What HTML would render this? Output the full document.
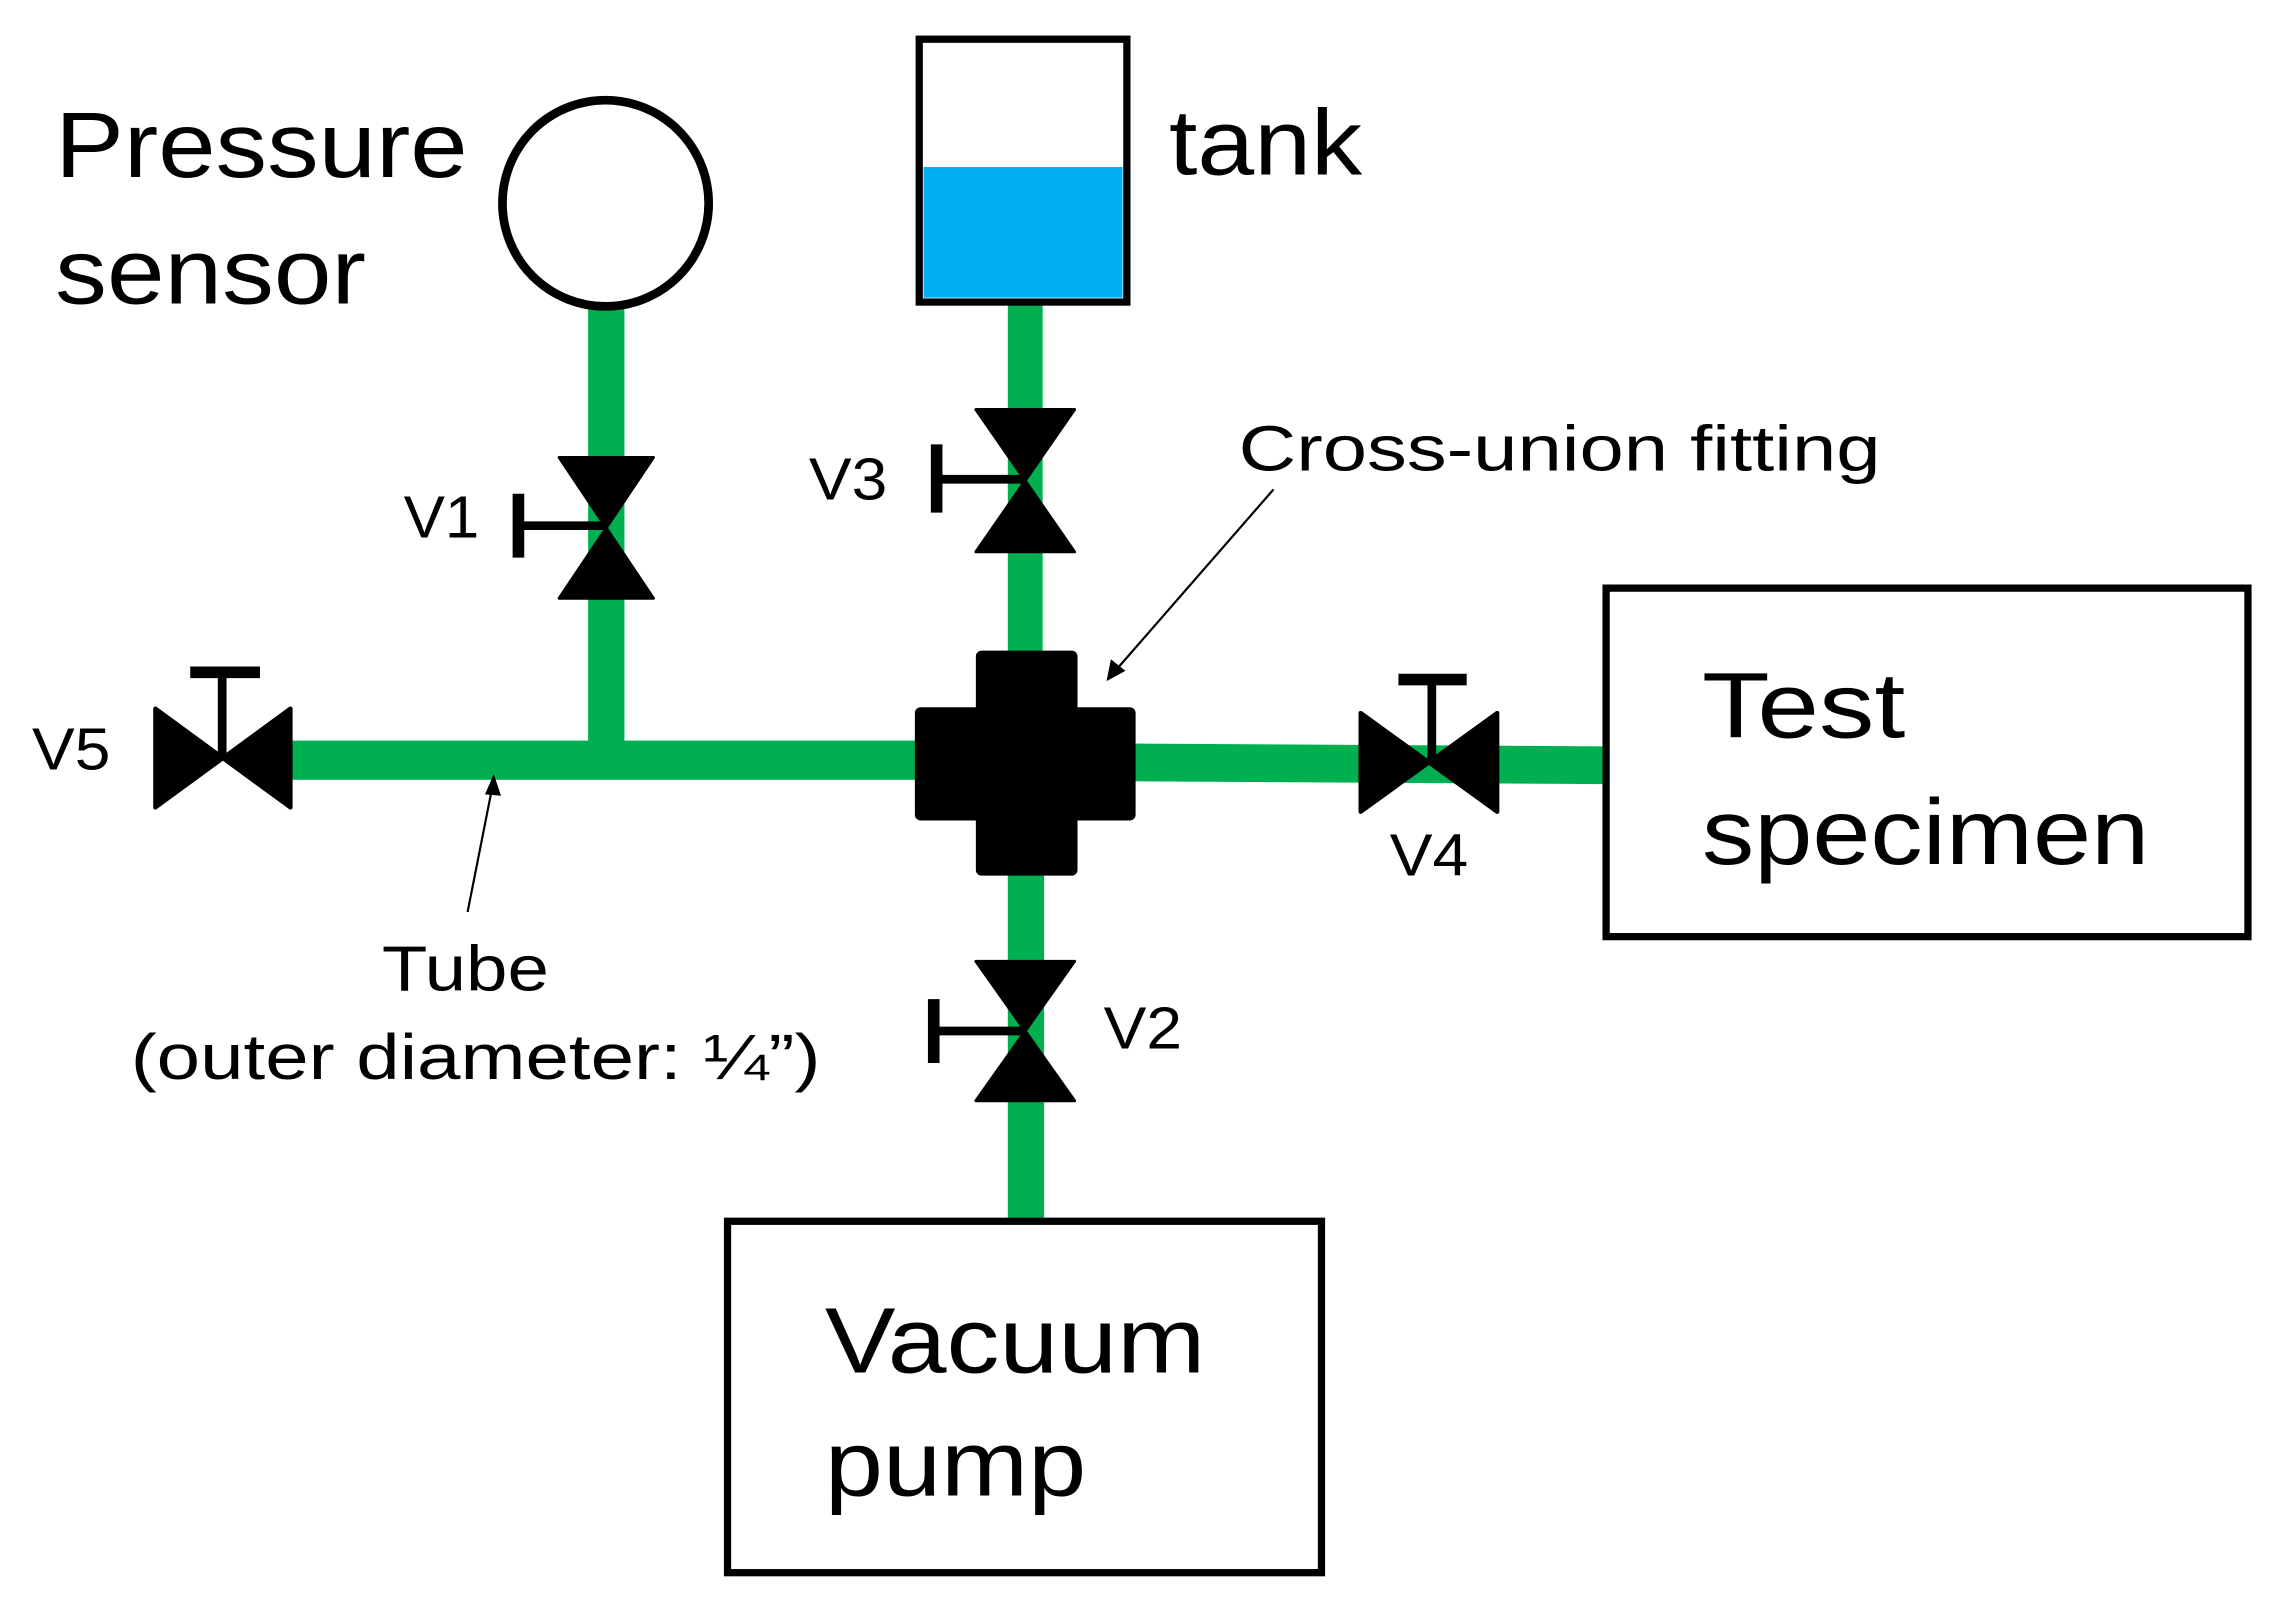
<!DOCTYPE html>
<html><head><meta charset="utf-8"><style>
html,body{margin:0;padding:0;background:#fff}
svg{display:block}
text{font-family:"Liberation Sans","DejaVu Sans",sans-serif;fill:#000}
</style></head><body>
<svg width="2277" height="1609" viewBox="0 0 1568 1108" xmlns="http://www.w3.org/2000/svg">
<rect width="1568" height="1108" fill="#fff"/>
<g fill="#00b050">
<rect x="405" y="212" width="25" height="313"/>
<rect x="694" y="210" width="24" height="245"/>
<rect x="694" y="595" width="25" height="247"/>
<rect x="195" y="510" width="440" height="27"/>
<path d="M780 512 L1105 514 L1105 540 L780 538 Z"/>
</g>
<circle cx="417" cy="140" r="71" fill="#fff" stroke="#000" stroke-width="6"/>
<rect x="633" y="27" width="143" height="181" fill="#fff" stroke="#000" stroke-width="5"/>
<rect x="636" y="115" width="137" height="90" fill="#00b0f0"/>
<g fill="#000">
<rect x="672" y="448" width="70" height="155" rx="4"/>
<rect x="630" y="487" width="152" height="78" rx="4"/>
</g>
<g fill="#000" stroke="#000">
<path d="M385 315 L450 315 L385 412 L450 412 Z" stroke-width="2" stroke-linejoin="round"/>
<line x1="358" y1="362" x2="417" y2="362" stroke-width="6"/>
<line x1="357" y1="340" x2="357" y2="384" stroke-width="8"/>
<path d="M672 282 L740 282 L672 380 L740 380 Z" stroke-width="2" stroke-linejoin="round"/>
<line x1="645" y1="330" x2="706" y2="330" stroke-width="6"/>
<line x1="645" y1="306" x2="645" y2="353" stroke-width="8"/>
<path d="M672 662 L740 662 L672 758 L740 758 Z" stroke-width="2" stroke-linejoin="round"/>
<line x1="643" y1="710" x2="706" y2="710" stroke-width="6"/>
<line x1="643" y1="688" x2="643" y2="732" stroke-width="8"/>
<path d="M107 488 L107 556 L200 488 L200 556 Z" stroke-width="3" stroke-linejoin="round"/>
<line x1="153" y1="522" x2="153" y2="463" stroke-width="6"/>
<line x1="131" y1="463" x2="179" y2="463" stroke-width="8"/>
<path d="M937 491 L937 559 L1031 491 L1031 559 Z" stroke-width="3" stroke-linejoin="round"/>
<line x1="986" y1="525" x2="986" y2="468" stroke-width="6"/>
<line x1="963" y1="468" x2="1010" y2="468" stroke-width="8"/>
</g>
<rect x="1106" y="405" width="442" height="240" fill="none" stroke="#000" stroke-width="5"/>
<rect x="501" y="841" width="409" height="242" fill="none" stroke="#000" stroke-width="5"/>
<g stroke="#000" stroke-width="1.5">
<line x1="877" y1="337" x2="768" y2="462"/>
<line x1="322" y1="628" x2="339" y2="542"/>
</g>
<path d="M762 469 L765 454 L775 462 Z" fill="#000"/>
<path d="M340 533 L334 547 L345 548 Z" fill="#000"/>
<g font-size="64" lengthAdjust="spacingAndGlyphs">
<text x="38" y="122" textLength="284" lengthAdjust="spacingAndGlyphs">Pressure</text>
<text x="38" y="209" textLength="214" lengthAdjust="spacingAndGlyphs">sensor</text>
<text x="805" y="120" textLength="133" lengthAdjust="spacingAndGlyphs">tank</text>
<text x="1172" y="508" textLength="140" lengthAdjust="spacingAndGlyphs">Test</text>
<text x="1172" y="595" textLength="308" lengthAdjust="spacingAndGlyphs">specimen</text>
<text x="568" y="945" textLength="262" lengthAdjust="spacingAndGlyphs">Vacuum</text>
<text x="568" y="1030" textLength="180" lengthAdjust="spacingAndGlyphs">pump</text>
</g>
<g font-size="41">
<text x="278" y="370" textLength="52" lengthAdjust="spacingAndGlyphs">V1</text>
<text x="557" y="344" textLength="54" lengthAdjust="spacingAndGlyphs">V3</text>
<text x="22" y="530" textLength="54" lengthAdjust="spacingAndGlyphs">V5</text>
<text x="957" y="603" textLength="54" lengthAdjust="spacingAndGlyphs">V4</text>
<text x="760" y="722" textLength="54" lengthAdjust="spacingAndGlyphs">V2</text>
<text x="853" y="324" font-size="44" textLength="442" lengthAdjust="spacingAndGlyphs">Cross-union fitting</text>
<text x="263" y="682" font-size="44" textLength="115" lengthAdjust="spacingAndGlyphs">Tube</text>
<text x="90" y="743" font-size="44" textLength="475" lengthAdjust="spacingAndGlyphs">(outer diameter: ¼”)</text>
</g>
</svg>
</body></html>
